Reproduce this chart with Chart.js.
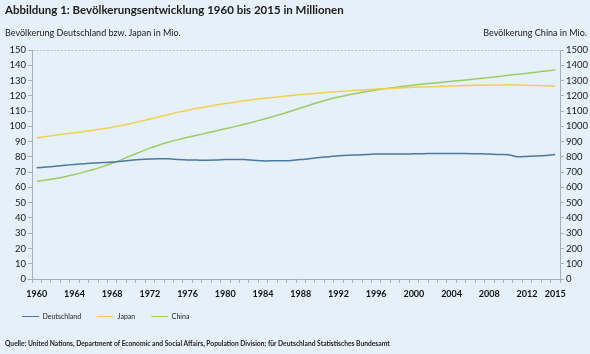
<!DOCTYPE html>
<html lang="de">
<head>
<meta charset="utf-8">
<script src="https://cdn.jsdelivr.net/npm/chart.js@4.4.1/dist/chart.umd.min.js"></script>
<style>
  html, body { margin: 0; padding: 0; background: #e6f0f8; }
  #wrap { position: relative; width: 590px; height: 354px; font-family: Lato, sans-serif; color: #1b1b1b; }
  #chart { position: absolute; left: 0; top: 0; }
  .title { position: absolute; left: 5px; top: 3px; font-weight: bold; font-size: 11.5px; white-space: nowrap; }
  .cap { position: absolute; top: 27px; font-size: 9px; white-space: nowrap; }
  .cap.l { left: 5px; }
  .cap.r { right: 3px; }
  .src { position: absolute; left: 5px; top: 339px; font-size: 6.7px; font-weight: bold; color: #222; white-space: nowrap; }
</style>
</head>
<body>
<div id="wrap">
  <canvas id="chart" width="590" height="354"></canvas>
  <div class="title">Abbildung 1: Bevölkerungsentwicklung 1960 bis 2015 in Millionen</div>
  <div class="cap l">Bevölkerung Deutschland bzw. Japan in Mio.</div>
  <div class="cap r">Bevölkerung China in Mio.</div>
  <div class="src">Quelle: United Nations, Department of Economic and Social Affairs, Population Division; für Deutschland Statistisches Bundesamt</div>
</div>
<script>
// Jahre (Kategorien)
const years = [
  '1960','1961','1962','1963','1964','1965','1966','1967','1968','1969',
  '1970','1971','1972','1973','1974','1975','1976','1977','1978','1979',
  '1980','1981','1982','1983','1984','1985','1986','1987','1988','1989',
  '1990','1991','1992','1993','1994','1995','1996','1997','1998','1999',
  '2000','2001','2002','2003','2004','2005','2006','2007','2008','2009',
  '2010','2011','2012','2013','2014','2015'
];
const yearLabels = ['1960','1964','1968','1972','1976','1980','1984','1988','1992','1996','2000','2004','2008','2012','2015'];

// Deutschland, Mio. (linke Achse)
const deutschland = [
  72.8, 73.3, 73.9, 74.5, 75.0, 75.5, 76.0, 76.3, 76.6, 77.2,
  77.8, 78.3, 78.6, 78.8, 78.7, 78.3, 78.0, 77.9, 77.8, 77.9,
  78.2, 78.3, 78.2, 77.8, 77.4, 77.4, 77.5, 77.7, 78.2, 78.9,
  79.6, 80.1, 80.7, 81.1, 81.3, 81.5, 81.8, 81.9, 81.9, 81.9,
  82.0, 82.1, 82.2, 82.2, 82.2, 82.2, 82.1, 82.0, 81.8, 81.5,
  81.4, 80.1, 80.3, 80.5, 80.9, 81.6
];
// Japan, Mio. (linke Achse)
const japan = [
  92.5, 93.3, 94.2, 95.0, 95.8, 96.6, 97.5, 98.4, 99.4, 100.6,
  101.9, 103.3, 104.8, 106.3, 107.8, 109.3, 110.6, 111.8, 112.9, 113.9,
  114.9, 115.8, 116.7, 117.5, 118.2, 118.9, 119.6, 120.2, 120.8, 121.3,
  121.8, 122.3, 122.8, 123.2, 123.6, 124.0, 124.4, 124.7, 125.0, 125.3,
  125.6, 125.8, 126.0, 126.2, 126.4, 126.6, 126.8, 126.9, 127.1, 127.1,
  127.2, 127.1, 126.9, 126.7, 126.6, 126.3
];
// China, Mio. (rechte Achse)
const china = [
  640, 648, 658, 670, 684, 700, 717, 737, 758, 782,
  808, 833, 857, 878, 897, 913, 928, 942, 956, 970,
  984, 998, 1013, 1029, 1046, 1063, 1081, 1100, 1120, 1140,
  1160, 1177, 1192, 1205, 1217, 1228, 1238, 1247, 1255, 1263,
  1270, 1277, 1283, 1289, 1295, 1301, 1307, 1313, 1320, 1327,
  1334, 1341, 1348, 1355, 1362, 1370
];

const axisCol = '#a7b0b8';
const textCol = '#1b1b1b';

Chart.defaults.font.family = 'Lato, sans-serif';
Chart.defaults.color = textCol;

new Chart(document.getElementById('chart'), {
  type: 'line',
  data: {
    labels: years,
    datasets: [
      { label: 'Deutschland', data: deutschland, borderColor: '#4a77a3', backgroundColor: '#4a77a3', yAxisID: 'y' },
      { label: 'Japan', data: japan, borderColor: '#f4cd57', backgroundColor: '#f4cd57', yAxisID: 'y' },
      { label: 'China', data: china, borderColor: '#9dcb66', backgroundColor: '#9dcb66', yAxisID: 'y2' },
    ],
  },
  options: {
    responsive: false,
    animation: false,
    elements: {
      line: { borderWidth: 1.5, tension: 0.3 },
      point: { radius: 0 },
    },
    layout: { padding: { top: 50, left: 6, right: 0, bottom: 24 } },
    plugins: {
      legend: {
        position: 'bottom',
        align: 'start',
        labels: {
          usePointStyle: true,
          pointStyle: 'line',
          pointStyleWidth: 17,
          padding: 16,
          color: '#222',
          font: { size: 7 },
        },
      },
      tooltip: { enabled: false },
    },
    scales: {
      x: {
        offset: true,
        grid: { offset: true, drawOnChartArea: false, tickLength: 4, tickColor: axisCol },
        border: { color: axisCol },
        ticks: {
          autoSkip: false,
          maxRotation: 0,
          padding: 6,
          color: '#111',
          font: { size: 9, weight: 'bold' },
          callback: function (v) {
            const y = this.getLabelForValue(v);
            return yearLabels.includes(y) ? y : '';
          },
        },
        afterFit: (s) => { s.height = 18; },
      },
      y: {
        position: 'left',
        min: 0,
        max: 150,
        grid: {
          color: (c) => (c.tick && c.tick.value === 150 ? '#b9bec3' : 'rgba(0,0,0,0)'),
          tickColor: axisCol,
          tickLength: 4,
        },
        border: { color: axisCol, dash: [2, 1.5] },
        ticks: { stepSize: 10, padding: 2, font: { size: 9.5 } },
        afterFit: (s) => { s.width = 26; },
      },
      y2: {
        position: 'right',
        min: 0,
        max: 1500,
        grid: { drawOnChartArea: false, tickColor: axisCol, tickLength: 4 },
        border: { color: axisCol },
        ticks: { stepSize: 100, padding: 2, font: { size: 9.5 }, callback: (v) => String(v) },
        afterFit: (s) => { s.width = 30; },
      },
    },
  },
});
</script>
</body>
</html>
